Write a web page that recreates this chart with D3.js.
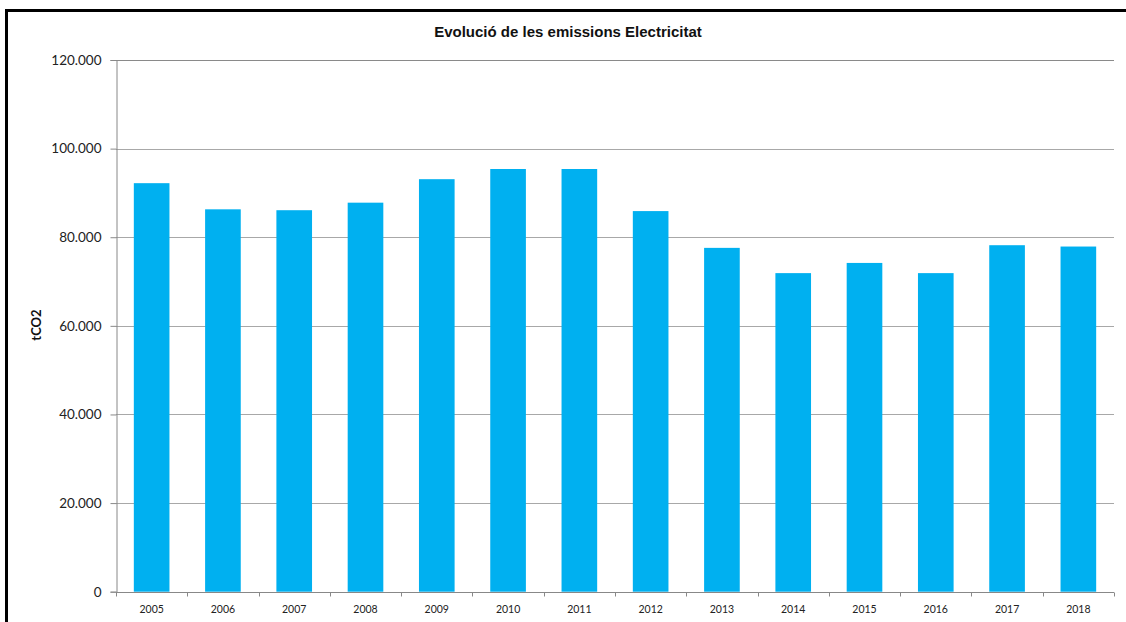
<!DOCTYPE html>
<html><head><meta charset="utf-8">
<script src="https://cdn.jsdelivr.net/npm/d3@7"></script>
<style>html,body{margin:0;padding:0;background:#fff;overflow:hidden}</style>
</head><body>
<svg id="chart" width="1126" height="622"></svg>
<script>
const years = ["2005","2006","2007","2008","2009","2010","2011","2012","2013","2014","2015","2016","2017","2018"];
const emissions = [92200,86300,86100,87800,93100,95400,95400,85900,77600,71900,74200,71900,78200,77900];
const yTicks = [0,20000,40000,60000,80000,100000,120000];
const title = "Evolució de les emissions Electricitat";
const yTitle = "tCO2";

const svg = d3.select("#chart");
const m = {left:116, right:1114, top:60, bottom:591.7};

// outer frame (left and top black border)
svg.append("line").attr("x1",6.5).attr("x2",6.5).attr("y1",9).attr("y2",622).attr("stroke","#000").attr("stroke-width",3);
svg.append("line").attr("x1",5).attr("x2",1126).attr("y1",10.5).attr("y2",10.5).attr("stroke","#000").attr("stroke-width",3);

const x = d3.scaleBand().domain(years).range([m.left,m.right]).paddingInner(0.5).paddingOuter(0.25);
const y = d3.scaleLinear().domain([0,120000]).range([m.bottom,m.top]);
const fmt = v => d3.format(",")(v).replace(/,/g,".");

// gridlines
svg.append("g").selectAll("line").data(yTicks.filter(d=>d>0)).join("line")
  .attr("x1",m.left).attr("x2",m.right)
  .attr("y1",d=>Math.round(y(d))+0.5).attr("y2",d=>Math.round(y(d))+0.5)
  .attr("stroke",d=>d===120000?"#8a8a8a":"#a8a8a8").attr("stroke-width",1.2);

// bars
svg.append("g").selectAll("rect").data(emissions).join("rect")
  .attr("x",(d,i)=>x(years[i])).attr("width",x.bandwidth())
  .attr("y",d=>y(d)).attr("height",d=>y(0)-y(d))
  .attr("fill","#00B0F0");

// y axis
const yAxis = d3.axisLeft(y).tickValues(yTicks).tickFormat(fmt).tickSize(6).tickPadding(9);
const gy = svg.append("g").attr("transform",`translate(${m.left+0.5},0)`).call(yAxis);
gy.select(".domain").attr("stroke","#888");
gy.selectAll(".tick line").attr("stroke","#888");
gy.selectAll("text").attr("font-family","Lato, 'Open Sans', sans-serif").attr("font-size",13.5).attr("fill","#222");

// x axis with boundary ticks
const gx = svg.append("g").attr("transform",`translate(0,${Math.round(m.bottom)+0.5})`);
gx.append("line").attr("x1",m.left).attr("x2",m.right).attr("stroke","#888");
const bounds = d3.range(years.length+1).map(i => m.left + i*(m.right-m.left)/years.length);
gx.selectAll("line.tk").data(bounds).join("line").attr("class","tk")
  .attr("x1",d=>Math.round(d)+0.5).attr("x2",d=>Math.round(d)+0.5).attr("y1",0).attr("y2",4).attr("stroke","#888");
gx.selectAll("text").data(years).join("text")
  .attr("x",d=>x(d)+x.bandwidth()/2).attr("y",20)
  .attr("text-anchor","middle")
  .attr("font-family","Lato, 'Open Sans', sans-serif").attr("font-size",10.5).attr("fill","#222")
  .text(d=>d);

// title
svg.append("text").attr("x",568).attr("y",37).attr("text-anchor","middle")
  .attr("font-family","'Liberation Sans', Arial, sans-serif").attr("font-weight","bold").attr("font-size",15)
  .attr("fill","#111").text(title);

// y title
svg.append("text").attr("transform","translate(41,325) rotate(-90)").attr("text-anchor","middle")
  .attr("font-family","Lato, 'Open Sans', sans-serif").attr("font-weight","bold").attr("font-size",13)
  .attr("fill","#111").text(yTitle);
</script>
</body></html>
